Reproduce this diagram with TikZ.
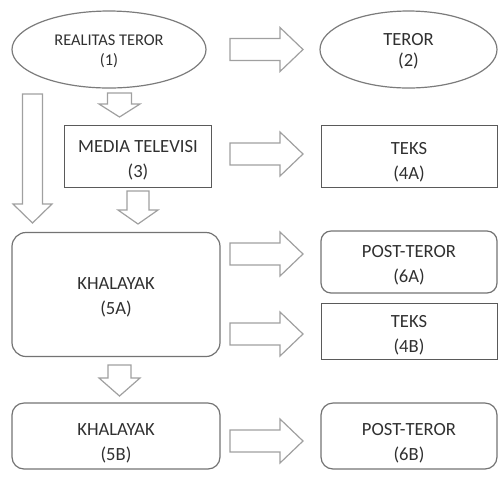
\documentclass[tikz,border=0pt]{standalone}
\usepackage{fontspec}
\setmainfont{Carlito}
\usepackage{tikz}
\usetikzlibrary{shapes.geometric}

\definecolor{boxgray}{HTML}{5A5A5A}
\definecolor{arrgray}{HTML}{A0A0A0}
\definecolor{txtgray}{HTML}{303030}

% block arrow pointing right: (x left, y centre)
\newcommand\rarrow[2]{%
  \draw[arrline] (#1,#2-11) -- (#1+50,#2-11) -- (#1+50,#2-22) -- (#1+73,#2)
    -- (#1+50,#2+22) -- (#1+50,#2+11) -- (#1,#2+11) -- cycle;}
% block arrow pointing down: centre x, top, head start, tip, half shaft, half head
\newcommand\darrow[6]{%
  \draw[arrline] (#1-#5,#2) -- (#1+#5,#2) -- (#1+#5,#3) -- (#1+#6,#3) -- (#1,#4)
    -- (#1-#6,#3) -- (#1-#5,#3) -- cycle;}

\begin{document}
\begin{tikzpicture}[x=0.5pt, y=-0.5pt,
    every node/.style={text=txtgray, align=center, font=\fontsize{9.3}{12.5}\selectfont, inner sep=0pt},
    arrline/.style={draw=arrgray, line width=0.6pt, fill=white},
    oval/.style={ellipse, draw=boxgray!80, line width=0.6pt, font=\fontsize{9.3}{10.5}\selectfont},
    box/.style={rectangle, draw=boxgray, line width=0.5pt},
    rbox/.style={rectangle, rounded corners=7pt, draw=boxgray!85, line width=0.6pt},
    down/.style={text height=18.5pt+2*#1}]
    \useasboundingbox (0,0) rectangle (499,479);

    \node[oval, minimum width=97pt, minimum height=38.5pt, font=\fontsize{8.2}{10}\selectfont, text height=17.3pt] (real) at (109,49.5) {REALITAS TEROR\\(1)};
    \node[oval, minimum width=88.5pt, minimum height=38.5pt, text height=18.5pt] (teror) at (408.5,49.5) {TEROR\\(2)};
    \node[box, minimum width=73.5pt, minimum height=31pt, down=2pt] (media) at (138,156) {MEDIA TELEVISI\\(3)};
    \node[box, minimum width=88pt, minimum height=31pt, down=3pt] (teksA) at (409,156) {TEKS\\(4A)};
    \node[rbox, minimum width=104pt, minimum height=62pt, down=1.5pt] (khalA) at (116,294.5) {KHALAYAK\\(5A)};
    \node[rbox, rounded corners=5pt, minimum width=88pt, minimum height=31pt, down=1.5pt] (postA) at (409,262) {POST-TEROR\\(6A)};
    \node[box, minimum width=88pt, minimum height=28pt, down=2pt] (teksB) at (409,331) {TEKS\\(4B)};
    \node[rbox, rounded corners=6pt, minimum width=104pt, minimum height=33pt, down=3.5pt] (khalB) at (116,436) {KHALAYAK\\(5B)};
    \node[rbox, rounded corners=6pt, minimum width=88pt, minimum height=33pt, down=3.5pt] (postB) at (409,436) {POST-TEROR\\(6B)};

    \rarrow{230}{49.5}
    \rarrow{230}{154}
    \rarrow{230}{254}
    \rarrow{230}{334}
    \rarrow{230}{441}

    \darrow{119.5}{93}{104}{117}{12}{20.5}
    \darrow{138}{191}{210}{224}{11}{20}
    \darrow{32.5}{94}{204}{223}{10}{19.5}
    \darrow{119.5}{365}{378}{396}{11.5}{20.5}
\end{tikzpicture}
\end{document}
